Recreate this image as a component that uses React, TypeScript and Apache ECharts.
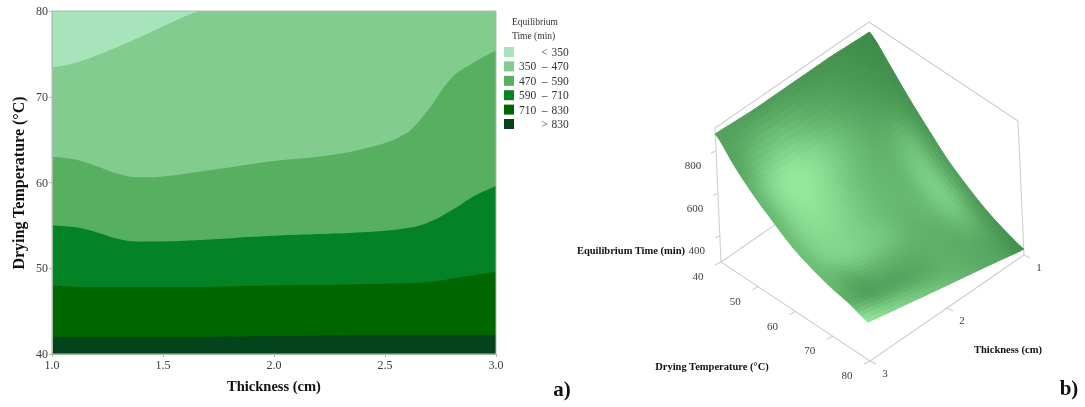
import React, { useEffect, useRef } from "react";
import * as echarts from "echarts";

// ---------- panel a) contour boundaries, [thickness, temperature] ----------
const legendNames = ["< 350", "350 – 470", "470 – 590", "590 – 710", "710 – 830", "> 830"];
const bandColors = ["#a7e4bb", "#81cc8e", "#56b05f", "#038226", "#006700", "#03441a"];
const bound350: number[][] = [[1, 80], [3, 80]];
const bound470: number[][] = [[1, 73.4], [1.1, 73.9], [1.2, 74.8], [1.4, 77], [1.5, 78.2], [1.66, 80], [1.8, 81], [3, 84]];
const bound590: number[][] = [[1, 63], [1.1, 62.7], [1.2, 61.9], [1.3, 61], [1.4, 60.6], [1.5, 60.7], [1.7, 61.4], [2, 62.5], [2.2, 63], [2.4, 63.9], [2.58, 65.5], [2.68, 68], [2.8, 72.2], [2.9, 74], [3, 75.4]];
const bound710: number[][] = [[1, 55], [1.1, 54.8], [1.2, 54.2], [1.3, 53.4], [1.4, 53.1], [1.6, 53.2], [2, 53.8], [2.4, 54.2], [2.6, 54.7], [2.7, 55.4], [2.81, 56.9], [2.9, 58.4], [3, 59.6]];
const bound830: number[][] = [[1, 48], [1.2, 47.8], [1.5, 47.8], [2, 48], [2.5, 48.2], [2.7, 48.4], [2.85, 49], [3, 49.6]];
const boundTop: number[][] = [[1, 42], [1.5, 42], [2, 42.1], [2.5, 42.2], [3, 42.2]];
const boundaries = [bound350, bound470, bound590, bound710, bound830, boundTop];

// ---------- panel b) surface ----------
const surfaceTemps = [40, 45, 50, 55, 60, 65, 70, 75, 80];
const surfaceThick = [1, 1.25, 1.5, 1.75, 2, 2.25, 2.5, 2.75, 3];
const surfaceZ: number[][] = [
  [861, 865, 870, 870, 870, 870, 870, 875, 880],
  [770, 765, 765, 768, 770, 770, 770, 780, 785],
  [670, 665, 655, 662, 670, 672, 675, 685, 705],
  [580, 570, 555, 562, 570, 572, 580, 610, 640],
  [495, 485, 480, 490, 500, 505, 515, 545, 580],
  [430, 430, 430, 437, 445, 455, 470, 505, 540],
  [375, 382, 395, 405, 415, 425, 440, 475, 510],
  [335, 350, 368, 385, 402, 420, 440, 465, 490],
  [306, 325, 345, 364, 383, 402, 422, 441, 460],
];
const surfaceShade: number[][] = [
  [0.0, 0.05, 0.1, 0.12, 0.15, 0.18, 0.2, 0.22, 0.25],
  [0.05, 0.12, 0.2, 0.3, 0.4, 0.55, 0.62, 0.5, 0.3],
  [0.1, 0.25, 0.35, 0.5, 0.7, 0.9, 1, 0.85, 0.45],
  [0.15, 0.55, 0.45, 0.5, 0.65, 0.85, 0.95, 0.85, 0.5],
  [0.2, 0.7, 0.5, 0.5, 0.6, 0.75, 0.85, 0.8, 0.55],
  [0.2, 0.7, 0.5, 0.45, 0.6, 0.7, 0.75, 0.7, 0.55],
  [0.15, 0.5, 0.4, 0.4, 0.4, 0.4, 0.38, 0.35, 0.5],
  [0.1, 0.3, 0.35, 0.4, 0.35, 0.3, 0.28, 0.27, 0.4],
  [0.05, 0.25, 0.35, 0.45, 0.55, 0.65, 0.75, 0.85, 1],
];
const zTicks = [400, 600, 800];
const tempTicks = [40, 50, 60, 70, 80];
const thickTicks = [1, 2, 3];

// projection of the 3-D box on the page
const FLOOR_L = [721, 262];
const FLOOR_B = [870, 361];
const FLOOR_R = [1024, 255];
const Z_MIN = 278;
const Z_MAX = 908;
const RISE_X = -6;
const RISE_Y = -134;
const SHADE_DARK = [61, 138, 72];
const SHADE_LIGHT = [147, 232, 155];
const SUB = 6;

function project(T: number, Th: number, z: number): number[] {
  const u = (T - 40) / 40;
  const v = (3 - Th) / 2;
  const h = (z - Z_MIN) / (Z_MAX - Z_MIN);
  return [
    FLOOR_L[0] + u * (FLOOR_B[0] - FLOOR_L[0]) + v * (FLOOR_R[0] - FLOOR_B[0]) + h * RISE_X,
    FLOOR_L[1] + u * (FLOOR_B[1] - FLOOR_L[1]) + v * (FLOOR_R[1] - FLOOR_B[1]) + h * RISE_Y,
  ];
}

function cr(a: number, b: number, c: number, d: number, t: number): number {
  return 0.5 * (2 * b + (c - a) * t + (2 * a - 5 * b + 4 * c - d) * t * t + (3 * b - a - 3 * c + d) * t * t * t);
}
function sample(m: number[][], r: number, c: number): number {
  const n = m.length - 1;
  const r0 = Math.min(Math.floor(r), n - 1);
  const c0 = Math.min(Math.floor(c), n - 1);
  const at = (i: number, j: number) => m[Math.max(0, Math.min(n, i))][Math.max(0, Math.min(n, j))];
  const row = (i: number) => cr(at(i, c0 - 1), at(i, c0), at(i, c0 + 1), at(i, c0 + 2), c - c0);
  return cr(row(r0 - 1), row(r0), row(r0 + 1), row(r0 + 2), r - r0);
}
function surfPoint(r: number, c: number): number[] {
  return project(40 + r * 5, 1 + c * 0.25, sample(surfaceZ, r, c));
}

const cells: number[][] = [];
surfaceTemps.slice(0, -1).forEach((_, i) => surfaceThick.slice(0, -1).forEach((_, j) => cells.push([i, j])));

const renderCell = (_p: any, api: any) => {
  const i = api.value(0);
  const j = api.value(1);
  const children: any[] = [];
  for (let a = 0; a < SUB; a++) {
    for (let b = 0; b < SUB; b++) {
      const r0 = i + a / SUB, r1 = i + (a + 1) / SUB, c0 = j + b / SUB, c1 = j + (b + 1) / SUB;
      const s = Math.max(0, Math.min(1, sample(surfaceShade, (r0 + r1) / 2, (c0 + c1) / 2)));
      const col = `rgb(${SHADE_DARK.map((d, k) => Math.round(d + s * (SHADE_LIGHT[k] - d))).join(",")})`;
      children.push({
        type: "polygon",
        shape: { points: [surfPoint(r0, c0), surfPoint(r0, c1), surfPoint(r1, c1), surfPoint(r1, c0)] },
        style: { fill: col, stroke: col, lineWidth: 1 },
        silent: true,
      });
    }
  }
  return { type: "group", children };
};

const renderFrame = () => {
  const stroke = "#cfcfcf";
  const seg = (a: number[], b: number[]) => ({
    type: "line",
    shape: { x1: a[0], y1: a[1], x2: b[0], y2: b[1] },
    style: { stroke, lineWidth: 1.1 },
    silent: true,
  });
  const children: any[] = [
    seg(project(40, 3, Z_MIN), project(80, 3, Z_MIN)),
    seg(project(80, 3, Z_MIN), project(80, 1, Z_MIN)),
    seg(project(40, 3, Z_MIN), project(40, 1, Z_MIN)),
    seg(project(40, 3, Z_MIN), project(40, 3, Z_MAX)),
    seg(project(80, 1, Z_MIN), project(80, 1, Z_MAX)),
    seg(project(40, 3, Z_MAX), project(40, 1, Z_MAX)),
    seg(project(40, 1, Z_MAX), project(80, 1, Z_MAX)),
  ];
  tempTicks.forEach((t) => {
    const p = project(t, 3, Z_MIN);
    children.push(seg(p, [p[0] - 6, p[1] + 3]));
  });
  thickTicks.forEach((t) => {
    const p = project(80, t, Z_MIN);
    children.push(seg(p, [p[0] + 6, p[1] + 3]));
  });
  zTicks.forEach((z) => {
    const p = project(40, 3, z);
    children.push(seg(p, [p[0] - 5, p[1] + 2]));
  });
  return { type: "group", children };
};

const SERIF = "'Liberation Serif', serif";
const tickText = (text: string, x: number, y: number) => ({
  type: "text",
  x,
  y,
  silent: true,
  style: { text, fill: "#3c3c3c", font: `11px ${SERIF}`, align: "center", verticalAlign: "middle" },
});
const boldText = (text: string, x: number, y: number, size: number, rotation = 0) => ({
  type: "text",
  x,
  y,
  rotation,
  silent: true,
  style: { text, fill: "#111", font: `bold ${size}px ${SERIF}`, align: "center", verticalAlign: "middle" },
});

export default function App() {
  const ref = useRef<HTMLDivElement>(null);
  useEffect(() => {
    const chart = echarts.init(ref.current!, undefined, { renderer: "svg" });
    const bandSeries = legendNames.map((name, i) => ({
      name,
      type: "line",
      data: boundaries[i],
      showSymbol: false,
      symbol: "none",
      smooth: 0.4,
      lineStyle: { width: 0 },
      itemStyle: { color: bandColors[i] },
      areaStyle: { color: bandColors[i], opacity: 1, origin: "start" },
      silent: true,
      z: 2 + i,
    }));
    const labels3d = [
      ...zTicks.map((z) => {
        const p = project(40, 3, z);
        return tickText(String(z), p[0] - 23, p[1] + 14);
      }),
      ...tempTicks.map((t) => {
        const p = project(t, 3, Z_MIN);
        return tickText(String(t), p[0] - 23, p[1] + 14);
      }),
      ...thickTicks.map((t) => {
        const p = project(80, t, Z_MIN);
        return tickText(String(t), p[0] + 15, p[1] + 12);
      }),
    ];
    chart.setOption({
      animation: false,
      backgroundColor: "#fff",
      grid: {
        left: 52,
        top: 11,
        width: 444,
        height: 343,
        show: true,
        z: 20,
        backgroundColor: "transparent",
        borderColor: "#a9bcb0",
        borderWidth: 1,
      },
      xAxis: {
        type: "value",
        min: 1,
        max: 3,
        interval: 0.5,
        splitLine: { show: false },
        axisLine: { show: true, lineStyle: { color: "#a9bcb0" } },
        axisTick: { show: true, length: 3, lineStyle: { color: "#a9bcb0" } },
        axisLabel: {
          margin: 5,
          color: "#3c3c3c",
          fontFamily: SERIF,
          fontSize: 12,
          formatter: (v: number) => v.toFixed(1),
        },
        z: 21,
      },
      yAxis: {
        type: "value",
        min: 40,
        max: 80,
        interval: 10,
        splitLine: { show: false },
        axisLine: { show: true, lineStyle: { color: "#a9bcb0" } },
        axisTick: { show: true, length: 3, lineStyle: { color: "#a9bcb0" } },
        axisLabel: { margin: 4, color: "#3c3c3c", fontFamily: SERIF, fontSize: 12 },
        z: 21,
      },
      legend: {
        left: 499,
        top: 41,
        orient: "vertical",
        data: legendNames,
        icon: "rect",
        itemWidth: 10,
        itemHeight: 10,
        itemGap: 2.4,
        selectedMode: false,
        formatter: (name: string) => {
          const parts = name.split(" ");
          return parts.length === 3
            ? `{l|${parts[0]}}{d|${parts[1]}}{h|${parts[2]}}`
            : `{l|\u00a0}{d|${parts[0]}}{h|${parts[1]}}`;
        },
        textStyle: {
          rich: {
            l: { width: 19, fontFamily: SERIF, fontSize: 11.5, color: "#333", lineHeight: 12 },
            d: { width: 13, align: "center", fontFamily: SERIF, fontSize: 11.5, color: "#333", lineHeight: 12 },
            h: { width: 18, fontFamily: SERIF, fontSize: 11.5, color: "#333", lineHeight: 12 },
          },
        },
      },
      graphic: [
        boldText("Drying Temperature (°C)", 18, 183, 16, Math.PI / 2),
        boldText("Thickness (cm)", 274, 386, 14.5),
        boldText("a)", 562, 389, 21),
        boldText("b)", 1069, 388, 21),
        boldText("Equilibrium Time (min)", 631, 250, 10.5),
        boldText("Drying Temperature (°C)", 712, 366, 10.5),
        boldText("Thickness (cm)", 1008, 349, 10.5),
        {
          type: "text",
          x: 512,
          y: 15,
          silent: true,
          style: { text: "Equilibrium\nTime (min)", fill: "#333", font: `9.5px ${SERIF}`, lineHeight: 14, align: "left" },
        },
        ...labels3d,
      ],
      series: [
        ...bandSeries,
        {
          name: "frame",
          type: "custom",
          coordinateSystem: "none",
          renderItem: renderFrame,
          data: [[0]],
          silent: true,
          z: 1,
        },
        {
          name: "surface",
          type: "custom",
          coordinateSystem: "none",
          renderItem: renderCell,
          data: cells,
          silent: true,
          z: 2,
        },
      ],
    });
    return () => chart.dispose();
  }, []);
  return (
    <div
      ref={ref}
      style={{ position: "absolute", left: 0, top: 0, width: 1085, height: 407, filter: "blur(0.5px)" }}
    />
  );
}
